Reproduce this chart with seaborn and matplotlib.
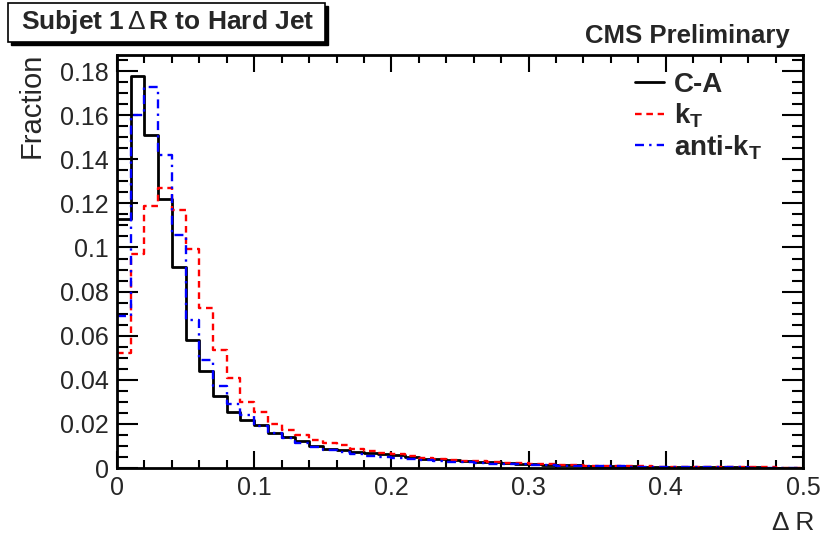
import numpy as np
import pandas as pd
import matplotlib
matplotlib.use("Agg")
import matplotlib.pyplot as plt
from matplotlib.patches import Rectangle
import seaborn as sns

# ---------------- data (fraction per 0.01 bin of Delta R, 0 .. 0.5) ----------------
bin_width = 0.01
ca_values = [0.113, 0.178, 0.151, 0.122, 0.091, 0.058, 0.044, 0.0326, 0.0256, 0.0217,
             0.0195, 0.0158, 0.0141, 0.0123, 0.0100, 0.0088, 0.0080,
             0.0071, 0.0067, 0.0062, 0.0058, 0.0050, 0.0043, 0.0039, 0.0035, 0.0031, 0.0028,
             0.0025, 0.0022, 0.0020, 0.0017, 0.0015, 0.0013, 0.0012, 0.0010, 0.0009, 0.0008,
             0.0007, 0.0006, 0.0006, 0.0005, 0.0005, 0.0004, 0.0004, 0.0003, 0.0003, 0.0003,
             0.0002, 0.0002, 0.0002]
kt_values = [0.052, 0.097, 0.1186, 0.127, 0.1168, 0.0995, 0.0726, 0.0535, 0.0408, 0.0301,
             0.0255, 0.0201, 0.0171, 0.0150, 0.0125, 0.0114, 0.0104,
             0.0088, 0.0075, 0.0068, 0.0063, 0.0055, 0.0046, 0.0042, 0.0038, 0.0034, 0.0030,
             0.0027, 0.0024, 0.0021, 0.0019, 0.0017, 0.0014, 0.0012, 0.0011, 0.0010, 0.0009,
             0.0008, 0.0007, 0.0006, 0.0006, 0.0005, 0.0004, 0.0004, 0.0004, 0.0003, 0.0003,
             0.0003, 0.0002, 0.0002]
akt_values = [0.069, 0.160, 0.173, 0.1418, 0.1055, 0.0671, 0.049, 0.0373, 0.0292, 0.0241,
              0.0191, 0.0160, 0.0138, 0.0115, 0.0096, 0.0082, 0.0071,
              0.0062, 0.0053, 0.0050, 0.0047, 0.0042, 0.0035, 0.0031, 0.0028, 0.0025, 0.0022,
              0.0020, 0.0018, 0.0016, 0.0014, 0.0012, 0.0011, 0.0010, 0.0009, 0.0008, 0.0007,
              0.0006, 0.0006, 0.0005, 0.0005, 0.0004, 0.0004, 0.0003, 0.0003, 0.0003, 0.0002,
              0.0002, 0.0002, 0.0002]
series_labels = ["C-A", r"$\mathbf{k_T}$", r"anti-$\mathbf{k_T}$"]
x_ticks = [0, 0.1, 0.2, 0.3, 0.4, 0.5]
x_tick_labels = ["0", "0.1", "0.2", "0.3", "0.4", "0.5"]
y_ticks = [0, 0.02, 0.04, 0.06, 0.08, 0.1, 0.12, 0.14, 0.16, 0.18]
y_tick_labels = ["0", "0.02", "0.04", "0.06", "0.08", "0.1", "0.12", "0.14", "0.16", "0.18"]
title_text = "Subjet 1$\\,\\Delta\\,$R to Hard Jet"
cms_text = "CMS Preliminary"
x_label = "Δ R"
y_label = "Fraction"

# ---------------- style ----------------
sns.set_style("ticks")
plt.rcParams["font.family"] = ["Liberation Sans", "DejaVu Sans"]
plt.rcParams["mathtext.fontset"] = "custom"
plt.rcParams["mathtext.rm"] = "Liberation Sans"
plt.rcParams["mathtext.it"] = "Liberation Sans:italic"
plt.rcParams["mathtext.bf"] = "Liberation Sans:bold"

fig = plt.figure(figsize=(8.22, 5.43), dpi=100)
W, H = 822, 543
ax_l, ax_r, ax_t, ax_b = 117, 803, 55, 468
ax = fig.add_axes([ax_l / W, 1 - ax_b / H, (ax_r - ax_l) / W, (ax_b - ax_t) / H])

n_bins = len(ca_values)
centers = (np.arange(n_bins) + 0.5) * bin_width

styles = [
    dict(color="black", linewidth=2.0, linestyle="-"),
    dict(color="#ff0000", linewidth=1.7, linestyle=(0, (2.8, 2.0))),
    dict(color="#0000ff", linewidth=1.7, linestyle=(0, (3.8, 2.2, 1.0, 2.2))),
]
for vals, st, lab in zip([ca_values, kt_values, akt_values], styles, series_labels):
    df = pd.DataFrame({"dr": centers, "frac": vals})
    sns.histplot(data=df, x="dr", weights="frac", binwidth=bin_width,
                 binrange=(0, n_bins * bin_width), element="step", fill=False,
                 ax=ax, label=lab, **st)

ax.set_xlim(0, 0.5)
ax.set_ylim(0, 0.1873)
ax.set_xticks(x_ticks)
ax.set_xticklabels(x_tick_labels)
ax.set_yticks(y_ticks)
ax.set_yticklabels(y_tick_labels)
ax.set_xticks(np.arange(0, 0.501, 0.02), minor=True)
ax.set_yticks(np.arange(0, 0.1873, 0.005), minor=True)
ax.tick_params(which="both", direction="in", top=True, right=True, width=1.5, color="black")
ax.tick_params(axis="y", which="major", length=15, labelsize=18, pad=6)
ax.tick_params(axis="y", which="minor", length=8)
ax.tick_params(axis="x", which="major", length=12, labelsize=18, pad=6)
ax.tick_params(axis="x", which="minor", length=6)
for s in ax.spines.values():
    s.set_linewidth(2.0)
    s.set_color("black")
    s.set_visible(True)

ax.set_xlabel(x_label, fontsize=19, loc="right")
ax.xaxis.set_label_coords(1.017, -0.105)
ax.set_ylabel(y_label, fontsize=21, loc="top")
ax.yaxis.set_label_coords(-0.104, 1.005)

leg = ax.legend(loc="upper left", bbox_to_anchor=(635 / W, 1 - 72 / H),
                bbox_transform=fig.transFigure, frameon=False,
                prop=dict(weight="bold", size=20), handlelength=1.05,
                handletextpad=0.35, labelspacing=0.12, borderpad=0, borderaxespad=0)

# title box with shadow
fig.patches.append(Rectangle((11 / W, 1 - 45 / H), 317 / W, 39 / H, transform=fig.transFigure,
                             facecolor="black", edgecolor="black", lw=1.0, zorder=1))
fig.patches.append(Rectangle((8 / W, 1 - 42 / H), 317 / W, 39 / H, transform=fig.transFigure,
                             facecolor="white", edgecolor="black", lw=1.2, zorder=2))
fig.text(168 / W, 1 - 22.5 / H, title_text, fontsize=19, fontweight="bold",
         ha="center", va="center", zorder=3)
fig.text(790 / W, 1 - 36 / H, cms_text, fontsize=18.5, fontweight="bold",
         ha="right", va="center")

fig.savefig("out.png", dpi=100)
